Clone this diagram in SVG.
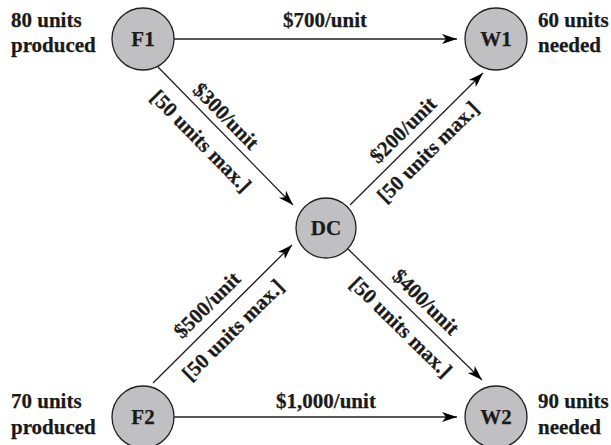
<svg xmlns="http://www.w3.org/2000/svg" width="611" height="445" viewBox="0 0 611 445">
<defs>
<marker id="ah" markerUnits="userSpaceOnUse" markerWidth="16" markerHeight="12" viewBox="0 0 16 12" refX="15" refY="6" orient="auto">
<path d="M0,1 L15,6 L0,11 L4,6 z" fill="#000"/>
</marker>
<style>
.t{font-family:"Liberation Serif","Times New Roman",serif;font-weight:bold;font-size:21px;fill:#1a1a1a;stroke:#1a1a1a;stroke-width:0.25}
.m{text-anchor:middle}
.n{fill:#c0c0c2;stroke:#231f20;stroke-width:1.3}
.e{stroke:#231f20;stroke-width:1.3;fill:none;marker-end:url(#ah)}
</style>
</defs>
<rect width="611" height="445" fill="#fff"/>
<g id="connectors">
<line class="e" x1="174" y1="39" x2="457" y2="39"/>
<line class="e" x1="174" y1="417" x2="457" y2="417"/>
<line class="e" x1="158" y1="67" x2="293" y2="205"/>
<line class="e" x1="350" y1="205" x2="483" y2="73"/>
<line class="e" x1="153" y1="383" x2="292" y2="245"/>
<line class="e" x1="348" y1="249" x2="482" y2="380"/>
<text class="t m" x="325" y="27">$700/unit</text>
<text class="t m" x="326" y="408">$1,000/unit</text>
<text class="t m" transform="translate(226,116) rotate(45.6)" y="7">$300/unit</text>
<text class="t m" transform="translate(201,141) rotate(45.6)" y="7">[50 units max.]</text>
<text class="t m" transform="translate(403,130) rotate(-44.8)" y="7">$200/unit</text>
<text class="t m" transform="translate(428,152) rotate(-44.8)" y="7">[50 units max.]</text>
<text class="t m" transform="translate(207,305) rotate(-44.8)" y="7">$500/unit</text>
<text class="t m" transform="translate(233,330) rotate(-44.8)" y="7">[50 units max.]</text>
<text class="t m" transform="translate(426,302) rotate(44.4)" y="7">$400/unit</text>
<text class="t m" transform="translate(401,327) rotate(44.4)" y="7">[50 units max.]</text>
</g>
<g id="F1">
<circle class="n" cx="143" cy="39" r="31"/>
<text class="t m" x="143" y="46">F1</text>
<text class="t" x="11" y="27">80 units</text>
<text class="t" x="11" y="52">produced</text>
</g>
<g id="W1">
<circle class="n" cx="496" cy="39" r="31"/>
<text class="t m" x="496" y="46">W1</text>
<text class="t" x="538" y="27">60 units</text>
<text class="t" x="538" y="52">needed</text>
</g>
<g id="DC">
<circle class="n" cx="326" cy="228" r="30"/>
<text class="t m" x="326" y="235">DC</text>
</g>
<g id="F2">
<circle class="n" cx="143" cy="417" r="31"/>
<text class="t m" x="143" y="424">F2</text>
<text class="t" x="11" y="408">70 units</text>
<text class="t" x="11" y="434">produced</text>
</g>
<g id="W2">
<circle class="n" cx="496" cy="417" r="31"/>
<text class="t m" x="496" y="424">W2</text>
<text class="t" x="538" y="408">90 units</text>
<text class="t" x="538" y="434">needed</text>
</g>
</svg>
